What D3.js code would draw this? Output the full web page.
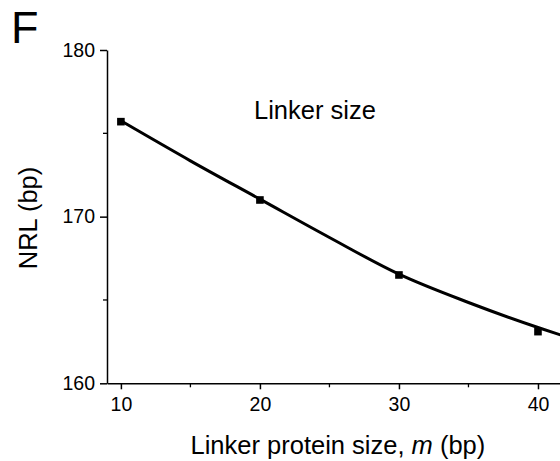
<!DOCTYPE html>
<html>
<head>
<meta charset="utf-8">
<script src="https://cdn.jsdelivr.net/npm/d3@7"></script>
<style>
  body { margin: 0; background: #fff; }
  text { font-family: "Liberation Sans", Arial, sans-serif; fill: #000; }
</style>
</head>
<body>
<script>
// Measured points: NRL vs linker protein size.
var sizes = [10, 20, 30, 40];
var nrl = [175.7, 171.0, 166.5, 163.1];

// Fitted curve.
var fitSizes = [10, 15, 20, 25, 30, 35, 40, 42];
var fitNrl = [175.75, 173.35, 171.05, 168.75, 166.55, 164.85, 163.35, 162.8];

var xTicks = [10, 20, 30, 40];
var xMinor = [15, 25, 35];
var yTicks = [160, 170, 180];
var yMinor = [165, 175];

var width = 560, height = 461;

var svg = d3.select("body").append("svg")
    .attr("width", width)
    .attr("height", height);

// Scales (the plot runs past the right edge of the picture)
var x = d3.scaleLinear().domain([9, 50]).range([107, 677]);
var y = d3.scaleLinear().domain([160, 180]).range([383.3, 50]);

// Clip the curve to the plot area.
svg.append("clipPath").attr("id", "plot")
    .append("rect")
    .attr("x", x(9)).attr("y", y(180))
    .attr("width", x(50) - x(9)).attr("height", y(160) - y(180));

// Axes
var xAxis = svg.append("g")
    .attr("transform", "translate(0," + y(160) + ")")
    .call(d3.axisBottom(x).tickValues(xTicks).tickSize(6).tickPadding(8).tickSizeOuter(0));
xAxis.append("g").selectAll("line")
    .data(xMinor)
    .join("line")
    .attr("x1", d => x(d)).attr("x2", d => x(d))
    .attr("y1", 0).attr("y2", 4)
    .attr("stroke", "#000").attr("stroke-width", 1.3);

var yAxis = svg.append("g")
    .attr("transform", "translate(" + x(9) + ",0)")
    .call(d3.axisLeft(y).tickValues(yTicks).tickSize(7).tickPadding(5).tickSizeOuter(0));
yAxis.append("g").selectAll("line")
    .data(yMinor)
    .join("line")
    .attr("x1", 0).attr("x2", -4)
    .attr("y1", d => y(d)).attr("y2", d => y(d))
    .attr("stroke", "#000").attr("stroke-width", 1.3);

svg.selectAll(".domain, .tick line").attr("stroke", "#000").attr("stroke-width", 1.5);
svg.selectAll(".tick text")
    .style("font-size", "19.5px")
    .style("font-family", "Liberation Sans, Arial, sans-serif")
    .attr("fill", "#000");

// Fitted curve
var line = d3.line()
    .x(d => x(d[0]))
    .y(d => y(d[1]))
    .curve(d3.curveMonotoneX);

svg.append("path")
    .datum(d3.zip(fitSizes, fitNrl))
    .attr("clip-path", "url(#plot)")
    .attr("d", line)
    .attr("fill", "none")
    .attr("stroke", "#000")
    .attr("stroke-width", 3);

// Data markers
svg.append("g").selectAll("rect")
    .data(d3.zip(sizes, nrl))
    .join("rect")
    .attr("x", d => x(d[0]) - 3.8)
    .attr("y", d => y(d[1]) - 3.8)
    .attr("width", 7.6)
    .attr("height", 7.6)
    .attr("fill", "#000");

// Labels
svg.append("text")
    .attr("x", 254).attr("y", 119)
    .style("font-size", "25.5px")
    .text("Linker size");

var xt = svg.append("text")
    .attr("x", 190.5).attr("y", 454)
    .style("font-size", "25.5px");
xt.append("tspan").text("Linker protein size, ");
xt.append("tspan").style("font-style", "italic").text("m");
xt.append("tspan").text(" (bp)");

svg.append("text")
    .attr("transform", "translate(37,218) rotate(-90)")
    .attr("text-anchor", "middle")
    .style("font-size", "25.5px")
    .text("NRL (bp)");

svg.append("text")
    .attr("x", 11).attr("y", 43)
    .style("font-size", "45px")
    .text("F");
</script>
</body>
</html>
